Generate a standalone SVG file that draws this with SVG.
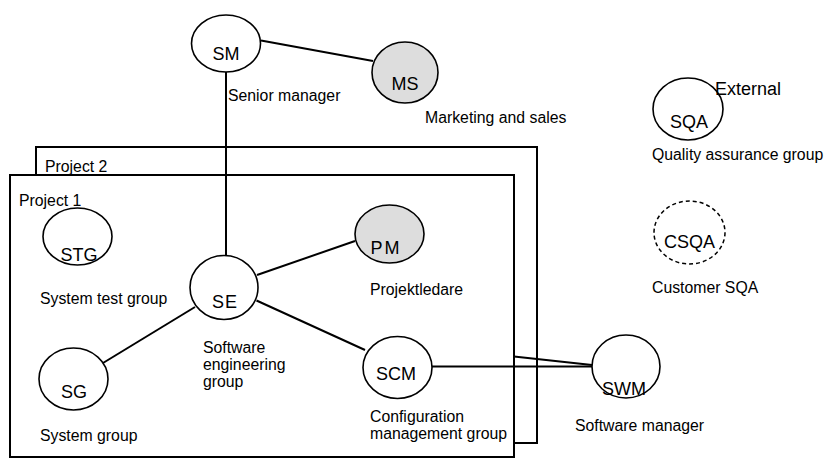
<svg xmlns="http://www.w3.org/2000/svg" width="830" height="459" viewBox="0 0 830 459">
<style>
.node{fill:#fff;stroke:#000;stroke-width:1.6}
.grey{fill:#dddddd}
.dash{fill:#fff;stroke:#000;stroke-width:1.5;stroke-dasharray:4 3}
.lbl{font-family:"Liberation Sans",Arial,sans-serif;font-size:18px;fill:#000;text-anchor:middle}
.txt{font-family:"Liberation Sans",Arial,sans-serif;font-size:15.8px;fill:#000}
.frame{fill:none;stroke:#000;stroke-width:2}
.conn line{stroke:#000;stroke-width:2}
</style>
<rect width="830" height="459" fill="#fff"/>
<g id="project2">
<path class="frame" d="M36,175 V147 H537 V443 H514"/>
<text class="txt" x="45" y="172" font-size="14.5">Project 2</text>
</g>
<g id="project1">
<rect class="frame" x="10" y="175" width="504" height="282" fill="#fff"/>
<text class="txt" x="19" y="206">Project 1</text>
</g>
<g id="connectors" class="conn">
<line x1="261" y1="40.5" x2="373" y2="61"/>
<line x1="226" y1="72" x2="226" y2="256"/>
<line x1="257" y1="275" x2="355" y2="241"/>
<line x1="256.5" y1="300.5" x2="365" y2="350"/>
<line x1="195" y1="307" x2="103" y2="363"/>
<line x1="432" y1="366.5" x2="592" y2="366.5"/>
<line x1="514" y1="356.5" x2="592" y2="365"/>
</g>
<g id="SM">
<ellipse class="node" cx="226" cy="43.5" rx="34.5" ry="28.5"/>
<text class="lbl" x="226" y="60">SM</text>
<text class="txt" x="228" y="101">Senior manager</text>
</g>
<g id="MS">
<ellipse class="node grey" cx="405" cy="72.5" rx="33" ry="30.5"/>
<text class="lbl" x="405" y="90">MS</text>
<text class="txt" x="425" y="123">Marketing and sales</text>
</g>
<g id="SQA">
<ellipse class="node" cx="688" cy="109" rx="35" ry="31"/>
<text class="lbl" x="689" y="128">SQA</text>
<text class="lbl" x="715" y="95" style="text-anchor:start">External</text>
<text class="txt" x="652" y="160">Quality assurance group</text>
</g>
<g id="CSQA">
<ellipse class="dash" cx="689.5" cy="232.5" rx="35.5" ry="31.5"/>
<text class="lbl" x="689.5" y="248">CSQA</text>
<text class="txt" x="652" y="293">Customer SQA</text>
</g>
<g id="STG">
<ellipse class="node" cx="77.5" cy="236.5" rx="34.5" ry="28.5"/>
<text class="lbl" x="79" y="261">STG</text>
<text class="txt" x="40" y="304">System test group</text>
</g>
<g id="PM">
<ellipse class="node grey" cx="389.5" cy="234" rx="34.5" ry="29"/>
<text class="lbl" x="386" y="254" letter-spacing="2">PM</text>
<text class="txt" x="370" y="295">Projektledare</text>
</g>
<g id="SE">
<ellipse class="node" cx="224" cy="287.5" rx="34" ry="32"/>
<text class="lbl" x="225" y="308" letter-spacing="1">SE</text>
<text class="txt" x="203" y="353">Software</text>
<text class="txt" x="203" y="370">engineering</text>
<text class="txt" x="203" y="387">group</text>
</g>
<g id="SG">
<ellipse class="node" cx="73.5" cy="379" rx="34.5" ry="31"/>
<text class="lbl" x="74" y="398">SG</text>
<text class="txt" x="40" y="441">System group</text>
</g>
<g id="SCM">
<ellipse class="node" cx="397.5" cy="367.5" rx="34.5" ry="31"/>
<text class="lbl" x="396" y="380">SCM</text>
<text class="txt" x="370" y="422" font-size="15">Configuration</text>
<text class="txt" x="370" y="439" font-size="15">management group</text>
</g>
<g id="SWM">
<ellipse class="node" cx="626" cy="366.5" rx="34" ry="31.5"/>
<text class="lbl" x="624" y="395">SWM</text>
<text class="txt" x="575" y="431">Software manager</text>
</g>
</svg>
